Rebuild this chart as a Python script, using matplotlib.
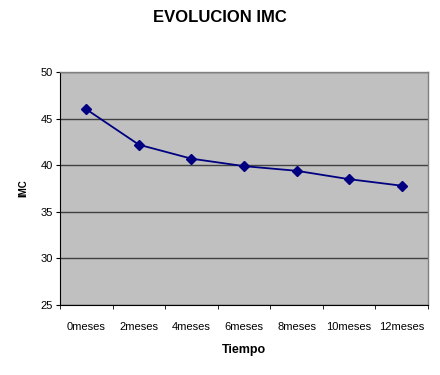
import matplotlib
matplotlib.use("Agg")
import matplotlib.pyplot as plt
import numpy as np

categories = ["0meses", "2meses", "4meses", "6meses", "8meses", "10meses", "12meses"]
imc = [46.0, 42.2, 40.7, 39.9, 39.4, 38.5, 37.8]

plt.rcParams['font.family'] = ['Liberation Sans', 'DejaVu Sans']

fig = plt.figure(figsize=(4.4, 3.75), dpi=100)
ax = fig.add_axes([60/440, 70/375, 368/440, 233/375])
ax.set_facecolor("#C0C0C0")

x = np.arange(len(categories))
ax.plot(x, imc, color="#000080", linewidth=1.3, marker="D", markersize=5.5,
        markerfacecolor="#000080", markeredgecolor="#000080", zorder=3)

ax.set_xlim(-0.5, len(categories) - 0.5)
ax.set_ylim(25, 50)
ax.set_yticks([25, 30, 35, 40, 45, 50])
ax.yaxis.grid(True, color="#404040", linewidth=1.0)
ax.set_axisbelow(True)

ax.set_xticks(x)
ax.set_xticklabels(categories, fontsize=8)
ax.tick_params(axis='x', length=0, pad=12)
ax.set_xticks(np.arange(-0.5, len(categories), 1), minor=True)
ax.tick_params(axis='x', which='minor', length=3, direction='out', color="#000000")
ax.tick_params(axis='y', labelsize=8, length=3, direction='out', pad=2)

for side in ["top", "right"]:
    ax.spines[side].set_color("#808080")
    ax.spines[side].set_linewidth(1.0)
ax.spines["left"].set_color("#000000")
ax.spines["bottom"].set_color("#000000")

ax.set_xlabel("Tiempo", fontsize=9, fontweight="bold", labelpad=9)
ax.set_ylabel("IMC", fontsize=7, fontweight="bold", labelpad=9)
fig.text(0.5, 1 - 18/375, "EVOLUCION IMC", ha="center", va="center",
         fontsize=12, fontweight="bold")

fig.savefig("out.png", dpi=100)
